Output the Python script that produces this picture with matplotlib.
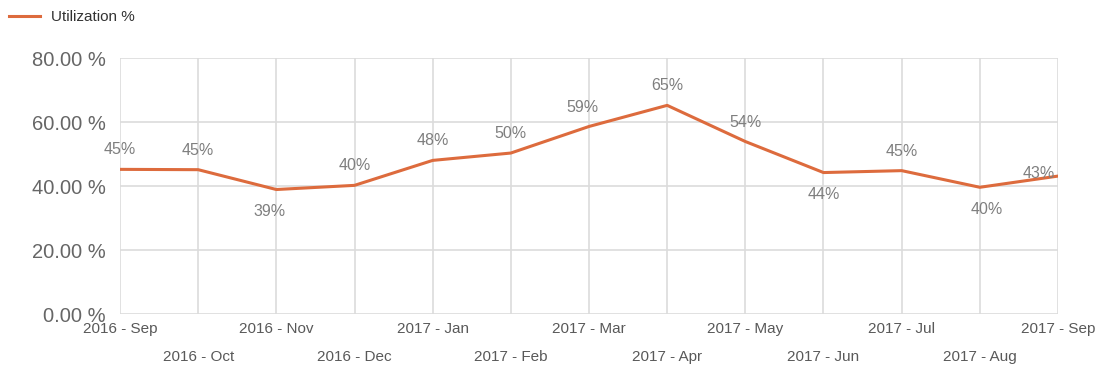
import matplotlib.pyplot as plt
import numpy as np

plt.rcParams['font.family'] = ['Liberation Sans', 'DejaVu Sans']

months = ["2016 - Sep", "2016 - Oct", "2016 - Nov", "2016 - Dec", "2017 - Jan",
          "2017 - Feb", "2017 - Mar", "2017 - Apr", "2017 - May", "2017 - Jun",
          "2017 - Jul", "2017 - Aug", "2017 - Sep"]
utilization = [45.2, 45.1, 38.9, 40.2, 48.0, 50.3, 58.6, 65.2, 53.9, 44.2, 44.8, 39.6, 43.1]
labels = ["45%", "45%", "39%", "40%", "48%", "50%", "59%", "65%", "54%", "44%", "45%", "40%", "43%"]

# label offsets in points (dx, dy)
offsets = [(0, 14), (0, 14), (-5, -16), (0, 14), (0, 14), (0, 14), (-5, 14), (0, 14),
           (0, 14), (0, -16), (0, 14), (5, -16), (-14, 2)]

line_color = '#DD6B3D'
grid_color = '#DCDCDC'
text_gray = '#7F7F7F'

fig = plt.figure(figsize=(10.99, 3.69), dpi=100)
ax = fig.add_axes([120 / 1099, 1 - 314 / 369, 938 / 1099, 256 / 369])

x = np.arange(len(months))
ax.plot(x, utilization, color=line_color, linewidth=2.2, label='Utilization %',
        solid_joinstyle='round', zorder=3)

for xi, yi, lab, (dx, dy) in zip(x, utilization, labels, offsets):
    ax.annotate(lab, (xi, yi), xytext=(dx, dy), textcoords='offset points',
                ha='center', va='center', fontsize=11.5, color=text_gray, zorder=4)

ax.set_xlim(0, len(months) - 1)
ax.set_ylim(0, 80)
ax.set_yticks([0, 20, 40, 60, 80])
ax.set_yticklabels([f"{v:.2f} %" for v in [0, 20, 40, 60, 80]], fontsize=14.5, color='#666666')
ax.set_xticks(x)
ax.set_xticklabels([])
for xi, m in zip(x, months):
    ypos = -4.8 if xi % 2 == 0 else -13.3
    ax.text(xi, ypos, m, ha='center', va='center', fontsize=11, color='#595959',
            transform=ax.transData, clip_on=False)

ax.grid(True, color=grid_color, linewidth=1.2)
ax.tick_params(length=0, pad=10)
for s in ax.spines.values():
    s.set_visible(False)
ax.set_axisbelow(True)

leg = fig.legend(loc='upper left', bbox_to_anchor=(-0.004, 1.01), frameon=False,
                 fontsize=11, handlelength=2.0, handletextpad=0.7)
for t in leg.get_texts():
    t.set_color('#333333')

fig.savefig('out.png', dpi=100)
